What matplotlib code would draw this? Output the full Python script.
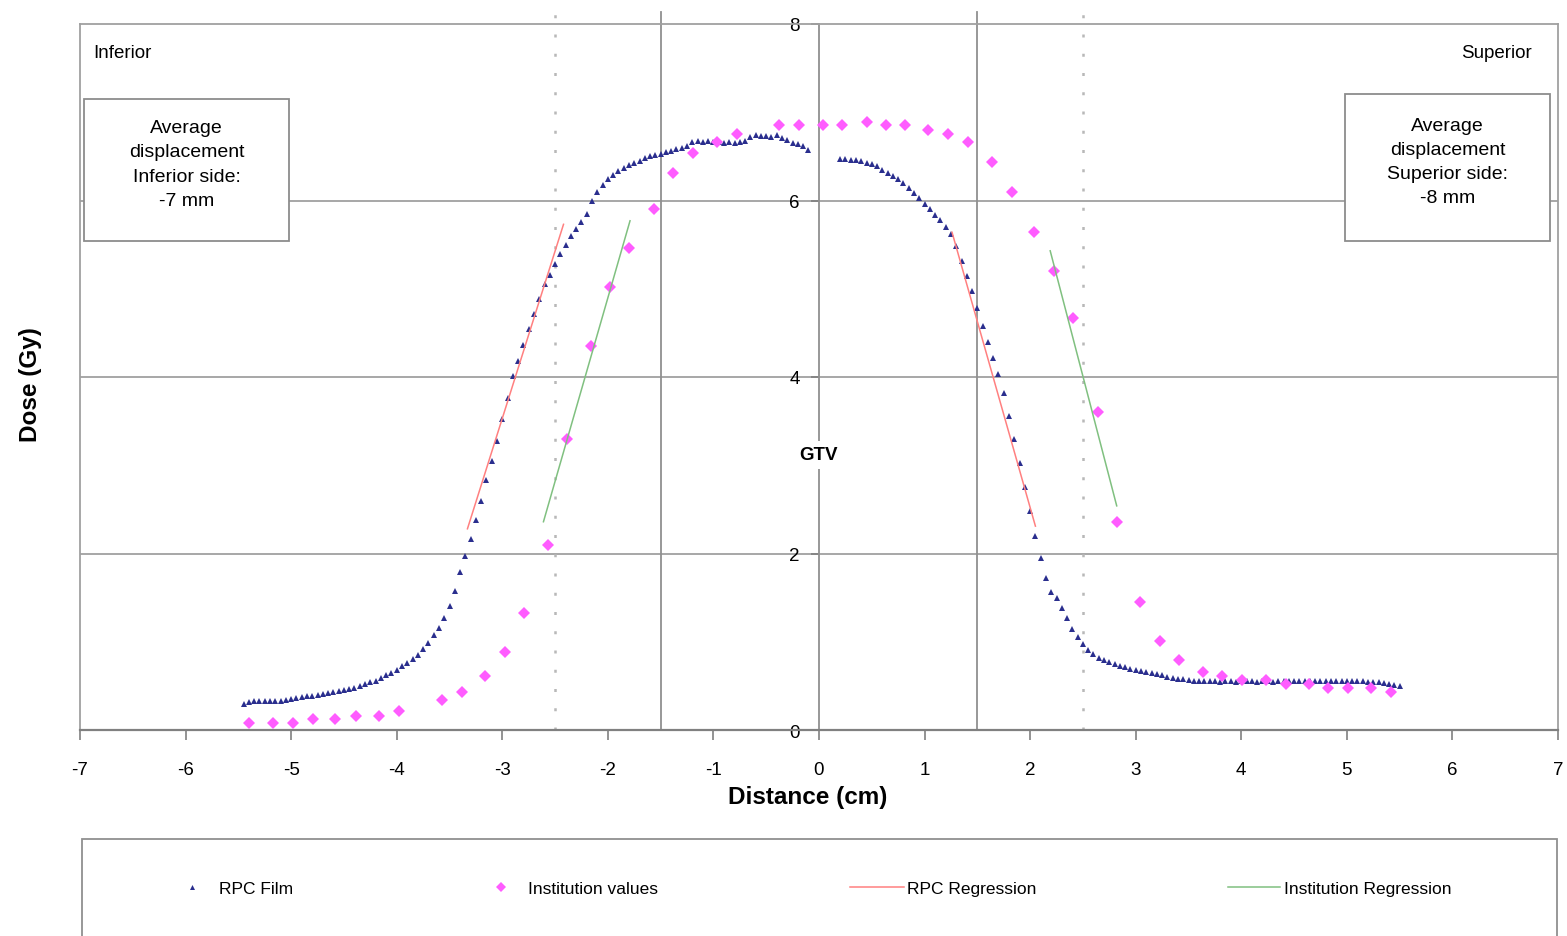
import numpy as np
import matplotlib
matplotlib.use("Agg")
import matplotlib.pyplot as plt
from matplotlib.lines import Line2D
from matplotlib.patches import Rectangle

plt.rcParams['font.family'] = ['Liberation Sans', 'DejaVu Sans']
plt.rcParams['axes.unicode_minus'] = False

# ---- data ----
# RPC film, sampled every 0.05 cm
film_left_start, film_right_start, film_step = -5.45, 0.20, 0.05
film_left_dose = [
    0.30, 0.32, 0.33, 0.33, 0.33, 0.33, 0.33, 0.33, 0.34, 0.35,
    0.36, 0.37, 0.38, 0.39, 0.40, 0.41, 0.42, 0.43, 0.44, 0.45,
    0.46, 0.48, 0.50, 0.52, 0.54, 0.56, 0.59, 0.62, 0.65, 0.68,
    0.72, 0.76, 0.80, 0.85, 0.92, 0.99, 1.08, 1.16, 1.27, 1.40,
    1.58, 1.79, 1.97, 2.16, 2.38, 2.60, 2.83, 3.05, 3.28, 3.52,
    3.76, 4.01, 4.18, 4.36, 4.54, 4.71, 4.88, 5.05, 5.16, 5.28,
    5.39, 5.50, 5.60, 5.68, 5.76, 5.85, 6.00, 6.10, 6.18, 6.24,
    6.29, 6.33, 6.37, 6.40, 6.43, 6.45, 6.48, 6.50, 6.52, 6.53,
    6.55, 6.56, 6.58, 6.60, 6.62, 6.66, 6.67, 6.66, 6.67, 6.66,
    6.66, 6.65, 6.66, 6.65, 6.66, 6.67, 6.72, 6.74, 6.73, 6.73,
    6.72, 6.74, 6.71, 6.68, 6.65, 6.64, 6.62, 6.57,
]
film_right_dose = [
    6.47, 6.47, 6.46, 6.46, 6.45, 6.43, 6.41, 6.39, 6.35, 6.31,
    6.28, 6.24, 6.20, 6.14, 6.08, 6.03, 5.96, 5.90, 5.84, 5.78,
    5.70, 5.62, 5.48, 5.32, 5.15, 4.97, 4.78, 4.58, 4.40, 4.22,
    4.03, 3.82, 3.56, 3.30, 3.02, 2.75, 2.48, 2.20, 1.95, 1.72,
    1.56, 1.50, 1.38, 1.27, 1.15, 1.05, 0.97, 0.91, 0.86, 0.82,
    0.79, 0.77, 0.75, 0.73, 0.71, 0.69, 0.68, 0.67, 0.66, 0.65,
    0.63, 0.62, 0.60, 0.59, 0.58, 0.58, 0.57, 0.56, 0.56, 0.55,
    0.55, 0.55, 0.54, 0.55, 0.55, 0.54, 0.55, 0.55, 0.55, 0.54,
    0.55, 0.55, 0.54, 0.55, 0.56, 0.56, 0.55, 0.56, 0.56, 0.56,
    0.55, 0.56, 0.56, 0.56, 0.55, 0.55, 0.56, 0.55, 0.55, 0.55,
    0.54, 0.54, 0.54, 0.53, 0.52, 0.51, 0.50,
]

inst_x = [-5.40, -5.17, -4.98, -4.79, -4.58, -4.39, -4.17, -3.98, -3.57, -3.38,
          -3.16, -2.97, -2.79, -2.57, -2.39, -2.16, -1.98, -1.80, -1.56, -1.38,
          -1.19, -0.97, -0.78, -0.38, -0.19, 0.04, 0.22, 0.45, 0.63, 0.81,
          1.03, 1.22, 1.41, 1.64, 1.83, 2.04, 2.23, 2.41, 2.64, 2.82,
          3.04, 3.23, 3.41, 3.64, 3.82, 4.01, 4.23, 4.42, 4.64, 4.82,
          5.01, 5.23, 5.42]
inst_dose = [0.08, 0.08, 0.08, 0.12, 0.12, 0.16, 0.16, 0.22, 0.34, 0.43,
             0.61, 0.88, 1.33, 2.10, 3.30, 4.35, 5.02, 5.46, 5.90, 6.31,
             6.54, 6.66, 6.75, 6.85, 6.85, 6.85, 6.85, 6.89, 6.85, 6.85,
             6.80, 6.75, 6.66, 6.44, 6.10, 5.64, 5.20, 4.67, 3.60, 2.36,
             1.45, 1.01, 0.79, 0.66, 0.61, 0.57, 0.57, 0.52, 0.52, 0.48,
             0.48, 0.48, 0.43]

rpc_reg_left_x = [-3.33, -2.42]
rpc_reg_left_y = [2.28, 5.73]
rpc_reg_right_x = [1.26, 2.05]
rpc_reg_right_y = [5.64, 2.31]
inst_reg_left_x = [-2.61, -1.79]
inst_reg_left_y = [2.36, 5.77]
inst_reg_right_x = [2.19, 2.82]
inst_reg_right_y = [5.43, 2.54]

solid_marks = [-1.5, 1.5]
dotted_marks = [-2.5, 2.5]

film_left_x = film_left_start + film_step * np.arange(len(film_left_dose))
film_right_x = film_right_start + film_step * np.arange(len(film_right_dose))

# ---- figure ----
W, H = 1567, 937
fig = plt.figure(figsize=(W / 100, H / 100), dpi=100)
ax = fig.add_axes([80 / W, 1 - 731 / H, 1478 / W, 706 / H])

film_color = '#2a2e8e'
inst_color = '#ff5cff'
red = '#ff8080'
green = '#80c080'
frame = '#a0a0a0'
film_ms = 4.6
inst_ms = 6.5

for y in [2, 4, 6]:
    ax.axhline(y, color=frame, lw=1.3, zorder=1)
for x in solid_marks:
    ax.plot([x, x], [0, 8.14], color='#909090', lw=1.3, clip_on=False, zorder=1)
for x in dotted_marks:
    ax.plot([x, x], [0, 8.14], color='#b8b8b8', lw=1.8, ls=(0, (1.2, 6.5)),
            clip_on=False, zorder=1)
ax.plot([-7, -7], [0, 8], color=frame, lw=1.3, clip_on=False, zorder=1)

ax.plot(film_left_x, film_left_dose, ls='none', marker='^', ms=film_ms, mew=0,
        color=film_color, zorder=3)
ax.plot(film_right_x, film_right_dose, ls='none', marker='^', ms=film_ms, mew=0,
        color=film_color, zorder=3)
ax.plot(inst_x, inst_dose, ls='none', marker='D', ms=inst_ms, mew=0,
        color=inst_color, zorder=3)
ax.plot(rpc_reg_left_x, rpc_reg_left_y, color=red, lw=1.1, zorder=4)
ax.plot(rpc_reg_right_x, rpc_reg_right_y, color=red, lw=1.1, zorder=4)
ax.plot(inst_reg_left_x, inst_reg_left_y, color=green, lw=1.1, zorder=4)
ax.plot(inst_reg_right_x, inst_reg_right_y, color=green, lw=1.1, zorder=4)

ax.set_xlim(-7, 7)
ax.set_ylim(0, 8)
ax.set_xticks(range(-7, 8))
ax.set_yticks([0, 2, 4, 6, 8])
ax.spines['left'].set_position(('data', 0))
ax.spines['left'].set_color('#909090')
ax.spines['left'].set_linewidth(1.3)
ax.spines['bottom'].set_color('#808080')
ax.spines['bottom'].set_linewidth(1.6)
for s in ['top', 'right']:
    ax.spines[s].set_color(frame)
    ax.spines[s].set_linewidth(1.3)
ax.tick_params(axis='x', direction='out', length=7, width=1.2, color='#808080',
               pad=15, labelsize=13.5)
ax.tick_params(axis='y', direction='out', length=6, width=1.2, color='#808080',
               pad=8, labelsize=13.5)

ax.text(0, 3.12, 'GTV', ha='center', va='center', fontsize=13.5, fontweight='bold',
        bbox=dict(facecolor='white', edgecolor='none', pad=4), zorder=5)

fig.text(93 / W, 1 - 53 / H, 'Inferior', ha='left', va='center', fontsize=13.5)
fig.text(1532 / W, 1 - 53 / H, 'Superior', ha='right', va='center', fontsize=13.5)

# annotation boxes
for (x0, y0, x1, y1, txt) in [
        (84, 100, 289, 242, 'Average\ndisplacement\nInferior side:\n-7 mm'),
        (1345, 95, 1550, 242, 'Average\ndisplacement\nSuperior side:\n-8 mm')]:
    fig.patches.append(Rectangle((x0 / W, 1 - y1 / H), (x1 - x0) / W, (y1 - y0) / H,
                                 transform=fig.transFigure, facecolor='white',
                                 edgecolor='#8c8c8c', lw=1.3, zorder=5))
    fig.text((x0 + x1) / 2 / W, 1 - ((y0 + y1) / 2 - 6) / H, txt, ha='center',
             va='center', fontsize=14, linespacing=1.55, zorder=6)

fig.text(808 / W, 1 - 798 / H, 'Distance (cm)', ha='center', va='center',
         fontsize=17.5, fontweight='bold')
fig.text(30 / W, 1 - 385 / H, 'Dose (Gy)', ha='center', va='center',
         fontsize=17.5, fontweight='bold', rotation=90)

# legend box running off the bottom edge
fig.patches.append(Rectangle((82 / W, -0.05), (1557 - 82) / W, 0.05 + (937 - 840) / H,
                             transform=fig.transFigure, facecolor='none',
                             edgecolor='#909090', lw=1.3))
ly = 1 - 889 / H
entries = [
    (Line2D([], [], ls='none', marker='^', ms=film_ms - 1, mew=0, color=film_color), 'RPC Film', 183, 1.0, 1.1),
    (Line2D([], [], ls='none', marker='D', ms=inst_ms - 1, mew=0, color=inst_color), 'Institution values', 492, 1.0, 1.1),
    (Line2D([], [], color=red, lw=1.1), 'RPC Regression', 850, 3.1, 0.2),
    (Line2D([], [], color=green, lw=1.1), 'Institution Regression', 1228, 3.0, 0.2),
]
for h, lab, px, hl, tp in entries:
    fig.legend([h], [lab], loc='center left', bbox_to_anchor=(px / W, ly),
               frameon=False, fontsize=12.5, handlelength=hl, handletextpad=tp,
               borderpad=0, borderaxespad=0)

fig.savefig('out.png', dpi=100)
